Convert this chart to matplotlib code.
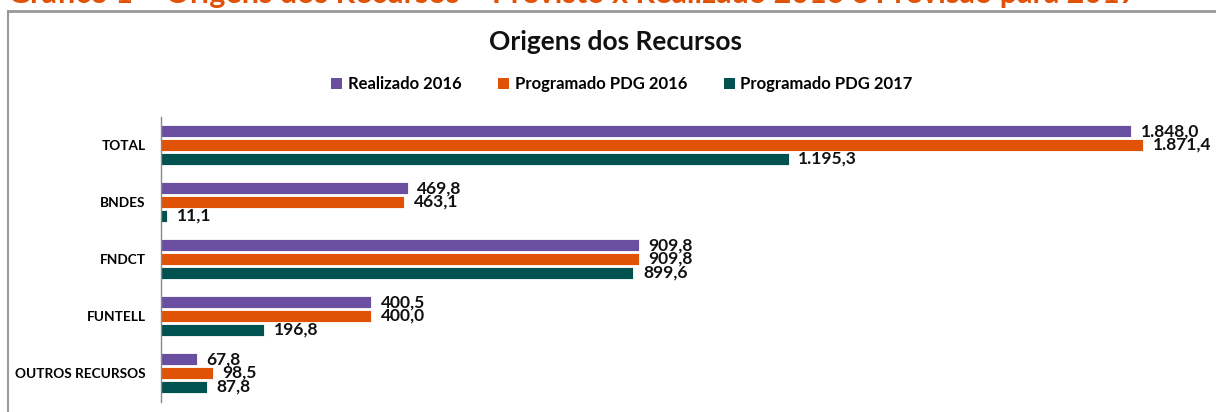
import matplotlib
matplotlib.use("Agg")
import matplotlib.pyplot as plt
from matplotlib.lines import Line2D
from matplotlib.patches import Patch

categories = ["TOTAL", "BNDES", "FNDCT", "FUNTELL", "OUTROS RECURSOS"]
series_names = ["Realizado 2016", "Programado PDG 2016", "Programado PDG 2017"]
realizado_2016 = [1848.0, 469.8, 909.8, 400.5, 67.8]
programado_2016 = [1871.4, 463.1, 909.8, 400.0, 98.5]
programado_2017 = [1195.3, 11.1, 899.6, 196.8, 87.8]
colors = ["#6A4FA1", "#E05206", "#00514F"]

FONT = ["Lato", "DejaVu Sans"]
plt.rcParams["font.family"] = FONT

W, H = 1216, 412
fig = plt.figure(figsize=(W / 100, H / 100), dpi=100)

def fx(px):
    return px / W

def fy(py):
    return 1 - py / H

ax = fig.add_axes([fx(161), fy(401.5), fx(1211) - fx(161), fy(116.5) - fy(401.5)])

def fmt(v):
    s = f"{v:,.1f}"
    return s.replace(",", "X").replace(".", ",").replace("X", ".")

bh = 0.195
step = 0.245
series = [realizado_2016, programado_2016, programado_2017]
for i, (vals, col) in enumerate(zip(series, colors)):
    ys = [c + (i - 1) * step for c in range(len(categories))]
    ax.barh(ys, vals, height=bh, color=col, edgecolor="white", linewidth=0.6)
    for y, v in zip(ys, vals):
        ax.annotate(fmt(v), (v, y), xytext=(7, 0), textcoords="offset points",
                    va="center", ha="left", fontsize=12.5, fontweight="bold", color="#111111")

ax.set_xlim(0, 2000)
ax.set_ylim(len(categories) - 0.5, -0.5)
ax.set_yticks(range(len(categories)))
ax.set_yticklabels(categories, fontsize=9.8, fontweight="bold")
ax.tick_params(axis="y", length=0, pad=11)
ax.set_xticks([])
for s in ["top", "right", "bottom"]:
    ax.spines[s].set_visible(False)
ax.spines["left"].set_color("#888888")
ax.spines["left"].set_linewidth(1.0)

# frame lines
fig.add_artist(Line2D([fx(8), 1], [fy(11), fy(11)], color="#999999", lw=2.0))
fig.add_artist(Line2D([fx(8), fx(8)], [fy(11), 0], color="#999999", lw=1.5))

# cut-off top caption
fig.text(fx(8), fy(3), "Gráfico 1 – Origens dos Recursos – Previsto x Realizado 2016 e Previsão para 2017",
         ha="left", va="baseline", fontsize=22, fontweight="bold", color="#E05206")

fig.text(fx(615), fy(42), "Origens dos Recursos", ha="center", va="center",
         fontsize=19, fontweight="bold", color="#111111")

handles = [Patch(facecolor=c) for c in colors]
fig.legend(handles, series_names, loc="center", bbox_to_anchor=(fx(622), fy(84)),
           ncol=3, frameon=False, prop={"weight": "bold", "size": 12},
           handlelength=0.65, handleheight=0.65, handletextpad=0.35, columnspacing=2.2)

fig.savefig("out.png", dpi=100)
